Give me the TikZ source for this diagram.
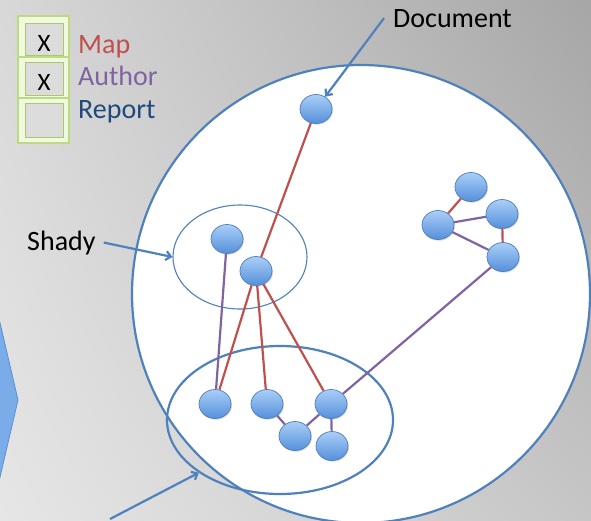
\documentclass[tikz,border=0pt]{standalone}
\usepackage{fontspec}
\setmainfont{Carlito}
\usetikzlibrary{shapes.geometric,shadows,shadings,arrows.meta}
\definecolor{bgtl}{HTML}{D8D8D8}
\definecolor{bgtr}{HTML}{A6A6A6}
\definecolor{bgbl}{HTML}{E6E6E6}
\definecolor{bgbr}{HTML}{C6C6C6}
\definecolor{blueline}{HTML}{4F81BD}
\definecolor{mapc}{HTML}{C0504D}
\definecolor{authc}{HTML}{8064A2}
\definecolor{repc}{HTML}{1F497D}
\definecolor{nodetop}{HTML}{AACEF8}
\definecolor{nodebot}{HTML}{5590DA}
\definecolor{nodeedge}{HTML}{4A7EBB}
\definecolor{boxout}{HTML}{BCDB80}
\definecolor{boxband}{HTML}{F0F8E0}
\definecolor{boxin}{HTML}{A9C96C}
\definecolor{boxfill}{HTML}{DCDCDC}
\definecolor{chevfill}{HTML}{7AACEA}
\definecolor{chevedge}{HTML}{5A8FD0}
\begin{document}
\begin{tikzpicture}[x=1pt,y=-1pt,
  dot/.style={ellipse, minimum width=32pt, minimum height=29pt, inner sep=0pt,
    top color=nodetop, bottom color=nodebot, draw=nodeedge, line width=0.7pt,
    drop shadow={shadow xshift=1pt, shadow yshift=-1.2pt, opacity=0.3}},
  redl/.style={draw=mapc, line width=2.2pt},
  purl/.style={draw=authc, line width=2.2pt},
  arr/.style={draw=blueline, line width=2.2pt, -{Straight Barb[length=5pt,width=9pt]}},
  lbl/.style={inner sep=0pt, anchor=base west, font=\fontsize{28}{32}\selectfont},
  xmark/.style={inner sep=0pt, anchor=base, font=\fontsize{25}{28}\selectfont, text=black},
  boxo/.style={fill=boxband, draw=boxout, line width=1.1pt},
  boxi/.style={fill=boxfill, draw=boxin, line width=0.9pt}
]
\useasboundingbox (0,0) rectangle (591,520);
\begin{scope}
\clip (0,0) rectangle (591,520);
\shade[upper left=bgtl, upper right=bgtr, lower left=bgbl, lower right=bgbr] (0,0) rectangle (591,520);
% left chevron
\filldraw[fill=chevfill, draw=chevedge, line width=0.8pt] (-3,310) -- (18,400) -- (-3,490) -- cycle;
% big circle
\draw[draw=blueline, line width=2.2pt, fill=white] (361,294) circle[radius=229pt];
\end{scope}

% legend boxes
\draw[boxo] (18,16) rectangle (69,58);
\draw[boxi] (25,23) rectangle (63,55);
\draw[boxo] (18,57) rectangle (69,99);
\draw[boxi] (25,62) rectangle (63,95);
\draw[boxo] (18,98) rectangle (69,143);
\draw[boxi] (25,103) rectangle (63,137);
\node[xmark] (x1) at (44,51) {X};
\node[xmark] (x2) at (44,90) {X};
\node[lbl, text=mapc] (map) at (78,53) {Map};
\node[lbl, text=authc] (author) at (78,85) {Author};
\node[lbl, text=repc] (report) at (78,118) {Report};

% group ellipses
\node[draw=blueline, line width=1.1pt, ellipse, minimum width=134pt, minimum height=104pt, inner sep=0pt] (shadyE) at (240,257) {};
\node[draw=blueline, line width=2.2pt, ellipse, minimum width=226pt, minimum height=148pt, inner sep=0pt] (bottomE) at (280,420) {};

% nodes
\node[dot] (doc) at (316,109) {};
\node[dot] (s1) at (227,239) {};
\node[dot] (s2) at (256,271) {};
\node[dot] (a) at (471,187) {};
\node[dot] (b) at (438,225) {};
\node[dot] (c) at (502,214) {};
\node[dot] (d) at (503,257) {};
\node[dot] (e) at (215,404) {};
\node[dot] (f) at (267,404) {};
\node[dot] (g) at (331,404) {};
\node[dot] (h) at (295,436) {};
\node[dot] (i) at (332,446) {};

% edges
\draw[redl] (doc) -- (s2);
\draw[redl] (s2) -- (e);
\draw[redl] (s2) -- (f);
\draw[redl] (s2) -- (g);
\draw[redl] (a) -- (b);
\draw[redl] (c) -- (d);
\draw[purl] (s1) -- (e);
\draw[purl] (b) -- (c);
\draw[purl] (b) -- (d);
\draw[purl] (d) -- (g);
\draw[purl] (f) -- (h);
\draw[purl] (h) -- (g);
\draw[purl] (g) -- (i);

% labels and arrows
\node[lbl, text=black] (doclbl) at (393,27) {Document};
\node[lbl, text=black] (shadylbl) at (27,250) {Shady};
\coordinate (bstart) at (110,519);
\draw[arr] ([xshift=-9pt]doclbl.west) -- (doc);
\draw[arr] ([xshift=8pt]shadylbl.east) -- (shadyE.west);
\draw[arr] (bstart) -- (bottomE.213);
\end{tikzpicture}
\end{document}
